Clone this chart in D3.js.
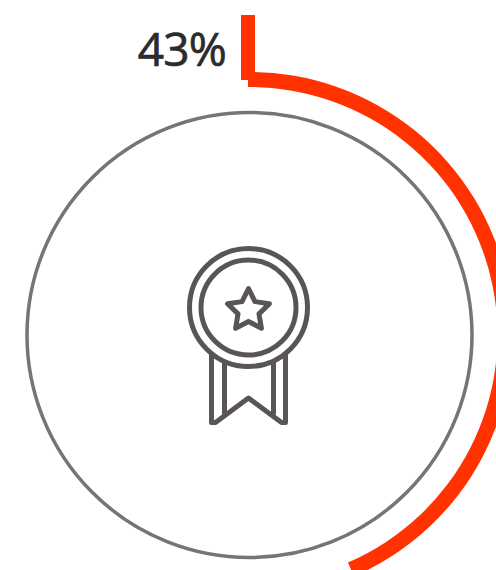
<!DOCTYPE html>
<html>
<head>
<meta charset="utf-8">
<script src="https://cdn.jsdelivr.net/npm/d3@7"></script>
<style>
  html, body { margin: 0; padding: 0; background: #fff; overflow: hidden; }
</style>
</head>
<body>
<div id="chart"></div>
<script>
// Chart value, arc end
const values = [43.5];
const total = [100];
const labels = ["43%"];

const width = 496, height = 570;
const cx = 249.5, cy = 335;

const svg = d3.select("#chart")
  .append("svg")
    .attr("width", width)
    .attr("height", height)
    .attr("viewBox", `0 0 ${width} ${height}`);

const g = svg.append("g").attr("transform", `translate(${cx},${cy})`);

// value -> angle
const angle = d3.scaleLinear().domain([0, total[0]]).range([0, 2 * Math.PI]);

// grey ring
g.append("circle")
  .attr("r", 222.5)
  .attr("fill", "none")
  .attr("stroke", "#757575")
  .attr("stroke-width", 3.5);

// red arc
const arc = d3.arc().innerRadius(248).outerRadius(263).startAngle(-0.006);
g.selectAll("path.value")
  .data(values)
  .join("path")
    .attr("class", "value")
    .attr("fill", "#ff3200")
    .attr("d", d => arc({endAngle: angle(d)}));

// start marker
g.append("rect")
  .attr("x", -8.5)
  .attr("y", 15 - cy)
  .attr("width", 14)
  .attr("height", 65)
  .attr("fill", "#ff3200");

// percent label
svg.selectAll("text.label")
  .data(labels)
  .join("text")
    .attr("class", "label")
    .attr("x", 226)
    .attr("y", 66)
    .attr("text-anchor", "end")
    .attr("font-family", "'Open Sans', sans-serif")
    .attr("font-size", 46)
    .attr("letter-spacing", -0.8)
    .attr("fill", "#2b2a2c")
    .attr("stroke", "#2b2a2c")
    .attr("stroke-width", 0.7)
    .text(d => d);

// medal icon
const icon = g.append("g")
  .attr("transform", "translate(-1,0)")
  .attr("fill", "none")
  .attr("stroke", "#595555")
  .attr("stroke-width", 5)
  .attr("stroke-linejoin", "round")
  .attr("stroke-linecap", "round");

icon.append("circle").attr("cy", -27.5).attr("r", 59);
icon.append("circle").attr("cy", -27.5).attr("r", 47.5);

// star
const star = d3.range(10).map(i => {
  const r = i % 2 ? 11 : 22;
  const a = i * Math.PI / 5;
  return [r * Math.sin(a), -24.5 - r * Math.cos(a)];
});
icon.append("path").attr("d", d3.line().curve(d3.curveLinearClosed)(star));

// ribbon
icon.append("path").attr("d", "M-37,19 L-37,87.5 L-33,87.5 L0,63 L33,87.5 L37,87.5 L37,19");
icon.append("path").attr("d", "M-24,27 L-24,78");
icon.append("path").attr("d", "M25,27 L25,78");
</script>
</body>
</html>
